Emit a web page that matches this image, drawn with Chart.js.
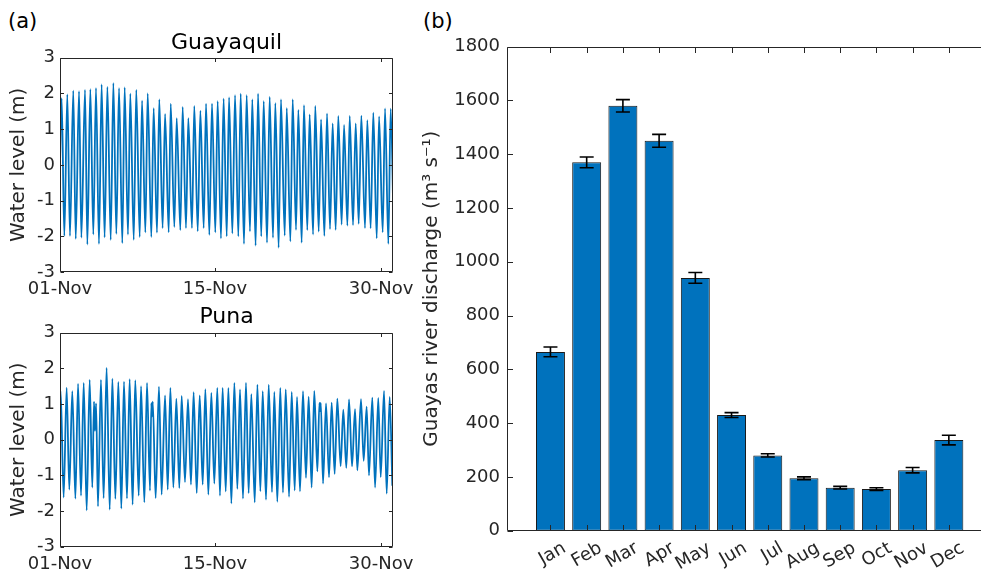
<!DOCTYPE html>
<html>
<head>
<meta charset="utf-8">
<script src="https://cdn.jsdelivr.net/npm/chart.js@4.4.1/dist/chart.umd.min.js"></script>
<style>
  html, body { margin: 0; padding: 0; background: #fff; overflow: hidden; }
  body { width: 981px; height: 575px; position: relative; font-family: "DejaVu Sans", sans-serif; }
  canvas { position: absolute; }
  .tag { position: absolute; font-size: 21px; line-height: 21px; color: #000; }
</style>
</head>
<body>
<div class="tag" style="left:8px; top:11px">(a)</div>
<div class="tag" style="left:423px; top:11px">(b)</div>
<canvas id="guayaquilChart" width="440" height="300" style="left:0; top:0"></canvas>
<canvas id="punaChart" width="440" height="285" style="left:0; top:290px"></canvas>
<canvas id="dischargeChart" width="620" height="575" style="left:400px; top:0"></canvas>

<script>
// ── Tide gauges, November (days since 01-Nov 00:00, level in m) ─────
const dateTickDays   = [0, 14, 29];
const dateTickLabels = ["01-Nov", "15-Nov", "30-Nov"];
const levelTicks     = [-3, -2, -1, 0, 1, 2, 3];

const guayaquilHighDay = [0.15, 0.66, 1.20, 1.72, 2.26, 2.74, 3.25, 3.76, 4.28, 4.82, 5.33, 5.84, 6.35, 6.89, 7.41,
  7.92, 8.46, 8.97, 9.49, 10.00, 10.54, 11.08, 11.59, 12.13, 12.68, 13.19, 13.73, 14.24, 14.78, 15.27, 15.81, 16.32,
  16.86, 17.37, 17.89, 18.40, 18.94, 19.45, 19.96, 20.48, 21.02, 21.53, 22.04, 22.55, 23.06, 23.58, 24.12, 24.63,
  25.14, 25.66, 26.17, 26.71, 27.22, 27.76, 28.30, 28.82, 29.36, 29.87];
const guayaquilHigh = [1.87, 1.97, 2.08, 2.06, 2.10, 2.12, 2.15, 2.25, 2.18, 2.29, 2.15, 2.17, 1.99, 2.10, 1.80,
  2.00, 1.59, 1.83, 1.43, 1.71, 1.31, 1.62, 1.31, 1.65, 1.52, 1.71, 1.71, 1.78, 1.85, 1.89, 1.95, 1.99,
  1.95, 1.83, 1.99, 1.78, 1.90, 1.73, 1.83, 1.59, 1.83, 1.54, 1.67, 1.41, 1.65, 1.27, 1.44, 1.16,
  1.37, 1.12, 1.37, 1.16, 1.38, 1.25, 1.46, 1.36, 1.58, 1.57];
const guayaquilLowDay = [-0.10, 0.39, 0.90, 1.42, 1.93, 2.47, 3.01, 3.52, 4.03, 4.58, 5.09, 5.63, 6.14, 6.66, 7.20,
  7.71, 8.25, 8.76, 9.27, 9.82, 10.33, 10.87, 11.38, 11.92, 12.44, 12.98, 13.49, 14.03, 14.54, 15.06, 15.57, 16.11,
  16.62, 17.16, 17.67, 18.18, 18.70, 19.24, 19.75, 20.30, 20.81, 21.32, 21.83, 22.34, 22.86, 23.37, 23.88, 24.39,
  24.90, 25.44, 25.96, 26.47, 26.98, 27.55, 28.06, 28.61, 29.15, 29.66, 30.15];
const guayaquilLow = [-1.90, -1.99, -1.99, -2.07, -2.04, -2.23, -1.95, -2.21, -2.03, -2.10, -1.93, -2.19, -1.95, -2.10, -2.02,
  -1.89, -2.02, -1.90, -1.77, -1.89, -1.74, -1.83, -1.77, -1.77, -1.86, -1.77, -1.96, -1.89, -2.06, -2.00, -1.92, -2.00,
  -2.21, -1.86, -2.26, -2.00, -2.18, -2.04, -2.32, -1.98, -2.14, -1.82, -2.18, -1.83, -1.95, -1.87, -1.99, -1.80,
  -1.82, -1.67, -1.70, -1.69, -1.65, -1.77, -1.78, -2.06, -1.89, -2.21, -2.05];

const punaHighDay = [0.06, 0.60, 1.11, 1.63, 2.14, 2.68, 3.07, 3.70, 4.21, 4.73, 5.27, 5.78, 6.29, 6.80, 7.32,
  7.86, 8.25, 8.94, 9.49, 9.97, 10.51, 10.99, 11.56, 12.07, 12.62, 13.13, 13.67, 14.21, 14.69, 15.21, 15.75, 16.26,
  16.80, 17.28, 17.83, 18.31, 18.85, 19.36, 19.90, 20.39, 20.93, 21.41, 21.95, 22.46, 22.97, 23.43, 24.03, 24.54,
  25.05, 25.59, 26.11, 26.65, 27.19, 27.70, 28.21, 28.75, 29.27, 29.78];
const punaHigh = [1.37, 1.46, 1.36, 1.57, 1.59, 1.68, 1.07, 1.68, 2.01, 1.71, 1.62, 1.63, 1.70, 1.67, 1.50,
  1.59, 1.03, 1.49, 1.24, 1.45, 1.15, 1.23, 1.14, 1.33, 1.24, 1.42, 1.31, 1.45, 1.45, 1.45, 1.59, 1.41,
  1.60, 1.28, 1.54, 1.36, 1.54, 1.34, 1.45, 1.41, 1.34, 1.20, 1.36, 1.21, 1.37, 1.03, 1.02, 1.04,
  1.15, 0.84, 1.13, 0.86, 1.14, 0.93, 1.18, 1.17, 1.37, 1.20];
const punaLowDay = [-0.22, 0.33, 0.84, 1.39, 1.90, 2.41, 2.92, 3.43, 3.94, 4.49, 5.00, 5.54, 6.05, 6.56, 7.11,
  7.62, 8.13, 8.64, 9.18, 9.73, 10.24, 10.78, 11.29, 11.83, 12.35, 12.89, 13.40, 13.94, 14.45, 14.97, 15.48, 16.02,
  16.53, 17.04, 17.59, 18.10, 18.61, 19.15, 19.63, 20.14, 20.69, 21.20, 21.68, 22.22, 22.73, 23.25, 23.76, 24.30,
  24.81, 25.35, 25.86, 26.38, 26.86, 27.43, 27.91, 28.46, 28.97, 29.51, 30.02];
const punaLow = [-1.50, -1.62, -1.40, -1.65, -1.57, -1.98, -1.34, -1.87, -1.64, -1.96, -1.66, -1.93, -1.65, -1.82, -1.57,
  -1.76, -1.43, -1.64, -1.54, -1.40, -1.34, -1.36, -1.19, -1.26, -1.50, -1.26, -1.54, -1.23, -1.57, -1.45, -1.79, -1.38,
  -1.65, -1.50, -1.76, -1.45, -1.68, -1.47, -1.74, -1.48, -1.60, -1.42, -1.45, -1.07, -1.34, -0.89, -1.23, -1.05,
  -0.96, -0.74, -0.79, -0.75, -0.86, -0.59, -1.00, -1.34, -1.05, -1.51, -1.29];
// double high waters (notch between two crests)
const punaNotchDay = [3.16, 3.26, 8.31, 8.38, 23.49, 23.56];
const punaNotch    = [0.25, 1.02, 0.65, 1.07, 0.80, 1.03];

// ── Guayas river, monthly mean discharge (m3/s) ±error ─────────────
const months       = ["Jan", "Feb", "Mar", "Apr", "May", "Jun", "Jul", "Aug", "Sep", "Oct", "Nov", "Dec"];
const monthNumbers = [1, 2, 3, 4, 5, 6, 7, 8, 9, 10, 11, 12];
const discharge    = [665, 1370, 1580, 1450, 940, 430, 280, 195, 160, 155, 225, 337];
const dischargeErr = [18, 20, 23, 24, 20, 9, 6, 5, 5, 5, 10, 18];
const dischargeTicks = [0, 200, 400, 600, 800, 1000, 1200, 1400, 1600, 1800];

const BLUE = "#0072BD";
const AXIS = "#262626";

Chart.defaults.font.family = "'DejaVu Sans', sans-serif";
Chart.defaults.color = AXIS;
Chart.defaults.animation = false;

// merge high/low turning points into one time-ordered line
function tideSeries(highDay, high, lowDay, low, extraDay = [], extra = []) {
    const pts = [];
    highDay.forEach((d, i) => pts.push({ x: d, y: high[i] }));
    lowDay.forEach((d, i) => pts.push({ x: d, y: low[i] }));
    extraDay.forEach((d, i) => pts.push({ x: d, y: extra[i] }));
    return pts.sort((a, b) => a.x - b.x);
}

// axes box with inward tick marks on all four sides
const boxTicks = {
    id: "boxTicks",
    afterDatasetsDraw(chart, args, opts) {
        const { ctx, chartArea: a, scales: { x, y } } = chart;
        const len = opts.length || 4;
        const L = Math.round(a.left) + 0.5, R = Math.round(a.right) - 0.5;
        const T = Math.round(a.top) + 0.5, B = Math.round(a.bottom) - 0.5;
        ctx.save();
        ctx.strokeStyle = AXIS;
        ctx.lineWidth = 1;
        ctx.beginPath();
        x.ticks.forEach(t => {
            const px = Math.round(x.getPixelForValue(t.value)) + 0.5;
            ctx.moveTo(px, B); ctx.lineTo(px, B - len);
            ctx.moveTo(px, T); ctx.lineTo(px, T + len);
        });
        y.ticks.forEach(t => {
            const py = Math.round(y.getPixelForValue(t.value)) + 0.5;
            ctx.moveTo(L, py); ctx.lineTo(L + len, py);
            ctx.moveTo(R, py); ctx.lineTo(R - len, py);
        });
        ctx.moveTo(L, T); ctx.lineTo(R, T); ctx.lineTo(R, B); ctx.lineTo(L, B); ctx.closePath();
        ctx.stroke();
        ctx.restore();
    }
};

// panel title centred over the plot area, not the whole canvas
const panelTitle = {
    id: "panelTitle",
    afterDraw(chart, args, opts) {
        if (!opts.text) return;
        const { ctx, chartArea: a } = chart;
        ctx.save();
        ctx.fillStyle = "#000";
        ctx.font = "22px 'DejaVu Sans', sans-serif";
        ctx.textAlign = "center";
        ctx.textBaseline = "alphabetic";
        ctx.fillText(opts.text, (a.left + a.right) / 2, opts.baseline);
        ctx.restore();
    }
};

// vertical error bars with caps, centred on each bar
const errorBars = {
    id: "errorBars",
    afterDatasetsDraw(chart, args, opts) {
        const { ctx, scales: { x, y } } = chart;
        const half = opts.capWidth / 2;
        ctx.save();
        ctx.strokeStyle = "#000";
        ctx.lineWidth = 1.6;
        ctx.beginPath();
        discharge.forEach((v, i) => {
            const px = x.getPixelForValue(monthNumbers[i]);
            const top = y.getPixelForValue(v + dischargeErr[i]);
            const bot = y.getPixelForValue(v - dischargeErr[i]);
            ctx.moveTo(px, top); ctx.lineTo(px, bot);
            ctx.moveTo(px - half, top); ctx.lineTo(px + half, top);
            ctx.moveTo(px - half, bot); ctx.lineTo(px + half, bot);
        });
        ctx.stroke();
        ctx.restore();
    }
};

function tideChart(id, title, plotTop, titleBaseline, points, xAxisHeight) {
    return new Chart(document.getElementById(id), {
        type: "line",
        data: {
            datasets: [{
                data: points,
                borderColor: BLUE,
                borderWidth: 1.8,
                pointRadius: 0,
                cubicInterpolationMode: "monotone"
            }]
        },
        options: {
            responsive: false,
            events: [],
            layout: { padding: { top: plotTop, right: 47, bottom: 0, left: 0 } },
            plugins: {
                legend: { display: false },
                tooltip: { enabled: false },
                boxTicks: { length: 3.5 },
                panelTitle: { text: title, baseline: titleBaseline }
            },
            scales: {
                x: {
                    type: "linear",
                    min: 0,
                    max: 30.08,
                    grid: { display: false, drawTicks: false },
                    border: { display: false },
                    afterBuildTicks: s => { s.ticks = dateTickDays.map(v => ({ value: v })); },
                    afterFit: s => { s.height = xAxisHeight; },
                    ticks: {
                        autoSkip: false,
                        maxRotation: 0,
                        padding: 7,
                        font: { size: 18 },
                        callback: v => dateTickLabels[dateTickDays.indexOf(v)]
                    }
                },
                y: {
                    min: -3,
                    max: 3,
                    grid: { display: false, drawTicks: false },
                    border: { display: false },
                    afterBuildTicks: s => { s.ticks = levelTicks.map(v => ({ value: v })); },
                    afterFit: s => { s.width = 60; },
                    ticks: { padding: 5, font: { size: 18 }, callback: v => String(v) },
                    title: {
                        display: true,
                        text: "Water level (m)",
                        font: { size: 20 },
                        padding: { top: 6.4, bottom: 0 }
                    }
                }
            }
        },
        plugins: [boxTicks, panelTitle]
    });
}

tideChart("guayaquilChart", "Guayaquil", 57.7, 49,
    tideSeries(guayaquilHighDay, guayaquilHigh, guayaquilLowDay, guayaquilLow), 28);

tideChart("punaChart", "Puna", 42.7, 33.3,
    tideSeries(punaHighDay, punaHigh, punaLowDay, punaLow, punaNotchDay, punaNotch), 28.3);

// ── Monthly discharge bars ─────────────────────────────────────────
new Chart(document.getElementById("dischargeChart"), {
    type: "bar",
    data: {
        datasets: [{
            data: monthNumbers.map((m, i) => ({ x: m, y: discharge[i] })),
            backgroundColor: BLUE,
            borderColor: "#1a1a1a",
            borderWidth: 1,
            borderSkipped: false,
            barPercentage: 0.8,
            categoryPercentage: 1.0
        }]
    },
    options: {
        responsive: false,
        events: [],
        layout: { padding: { top: 46.7, right: 27.7, bottom: 0, left: 0 } },
        plugins: {
            legend: { display: false },
            tooltip: { enabled: false },
            boxTicks: { length: 5.5 },
            errorBars: { capWidth: 14 }
        },
        scales: {
            x: {
                type: "linear",
                offset: false,
                min: -0.2,
                max: 13.2,
                grid: { display: false, drawTicks: false },
                border: { display: false },
                afterBuildTicks: s => { s.ticks = monthNumbers.map(v => ({ value: v })); },
                afterFit: s => { s.height = 44.3; },
                ticks: {
                    autoSkip: false,
                    minRotation: 30,
                    maxRotation: 30,
                    padding: 7,
                    labelOffset: 14,
                    font: { size: 18 },
                    callback: v => months[monthNumbers.indexOf(v)]
                }
            },
            y: {
                min: 0,
                max: 1800,
                grid: { display: false, drawTicks: false },
                border: { display: false },
                afterBuildTicks: s => { s.ticks = dischargeTicks.map(v => ({ value: v })); },
                afterFit: s => { s.width = 107; },
                ticks: { padding: 7, font: { size: 18 }, callback: v => String(v) },
                title: {
                    display: true,
                    text: "Guayas river discharge (m³ s⁻¹)",
                    font: { size: 20 },
                    padding: { top: 19.5, bottom: 0 }
                }
            }
        }
    },
    plugins: [errorBars, boxTicks]
});
</script>
</body>
</html>
